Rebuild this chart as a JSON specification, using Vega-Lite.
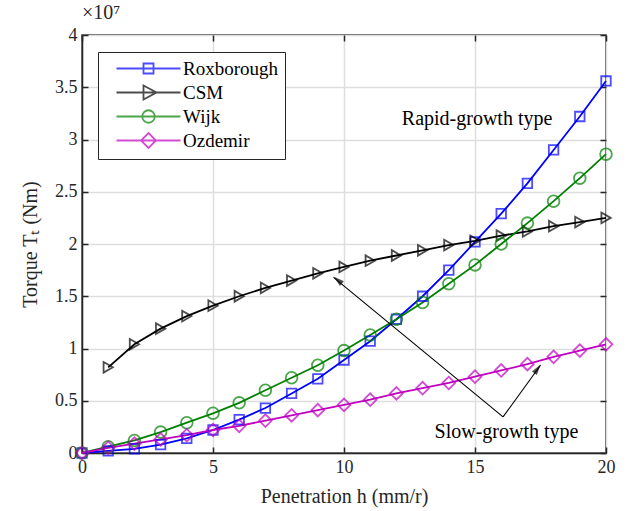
{
  "$schema": "https://vega.github.io/schema/vega-lite/v6.json",
  "width": 524,
  "height": 418,
  "autosize": "none",
  "padding": {"left": 82, "top": 35, "right": 21, "bottom": 58},
  "title": {"text": "×10⁷", "anchor": "start", "frame": "group", "fontSize": 20, "fontWeight": "normal", "color": "#262626", "offset": 3},
  "datasets": {
    "torque": [
      {"series": "Roxborough", "h": 0, "T": 0.0},
      {"series": "Roxborough", "h": 1, "T": 0.02},
      {"series": "Roxborough", "h": 2, "T": 0.04},
      {"series": "Roxborough", "h": 3, "T": 0.08},
      {"series": "Roxborough", "h": 4, "T": 0.14},
      {"series": "Roxborough", "h": 5, "T": 0.22},
      {"series": "Roxborough", "h": 6, "T": 0.32},
      {"series": "Roxborough", "h": 7, "T": 0.43},
      {"series": "Roxborough", "h": 8, "T": 0.57},
      {"series": "Roxborough", "h": 9, "T": 0.71},
      {"series": "Roxborough", "h": 10, "T": 0.89},
      {"series": "Roxborough", "h": 11, "T": 1.07},
      {"series": "Roxborough", "h": 12, "T": 1.28},
      {"series": "Roxborough", "h": 13, "T": 1.5},
      {"series": "Roxborough", "h": 14, "T": 1.75},
      {"series": "Roxborough", "h": 15, "T": 2.02},
      {"series": "Roxborough", "h": 16, "T": 2.29},
      {"series": "Roxborough", "h": 17, "T": 2.58},
      {"series": "Roxborough", "h": 18, "T": 2.9},
      {"series": "Roxborough", "h": 19, "T": 3.22},
      {"series": "Roxborough", "h": 20, "T": 3.56},
      {"series": "CSM", "h": 1, "T": 0.82},
      {"series": "CSM", "h": 2, "T": 1.04},
      {"series": "CSM", "h": 3, "T": 1.19},
      {"series": "CSM", "h": 4, "T": 1.31},
      {"series": "CSM", "h": 5, "T": 1.41},
      {"series": "CSM", "h": 6, "T": 1.5},
      {"series": "CSM", "h": 7, "T": 1.58},
      {"series": "CSM", "h": 8, "T": 1.65},
      {"series": "CSM", "h": 9, "T": 1.72},
      {"series": "CSM", "h": 10, "T": 1.78},
      {"series": "CSM", "h": 11, "T": 1.84},
      {"series": "CSM", "h": 12, "T": 1.89},
      {"series": "CSM", "h": 13, "T": 1.94},
      {"series": "CSM", "h": 14, "T": 1.99},
      {"series": "CSM", "h": 15, "T": 2.03},
      {"series": "CSM", "h": 16, "T": 2.08},
      {"series": "CSM", "h": 17, "T": 2.12},
      {"series": "CSM", "h": 18, "T": 2.17},
      {"series": "CSM", "h": 19, "T": 2.21},
      {"series": "CSM", "h": 20, "T": 2.25},
      {"series": "Wijk", "h": 0, "T": 0.0},
      {"series": "Wijk", "h": 1, "T": 0.06},
      {"series": "Wijk", "h": 2, "T": 0.12},
      {"series": "Wijk", "h": 3, "T": 0.2},
      {"series": "Wijk", "h": 4, "T": 0.29},
      {"series": "Wijk", "h": 5, "T": 0.38},
      {"series": "Wijk", "h": 6, "T": 0.48},
      {"series": "Wijk", "h": 7, "T": 0.6},
      {"series": "Wijk", "h": 8, "T": 0.72},
      {"series": "Wijk", "h": 9, "T": 0.84},
      {"series": "Wijk", "h": 10, "T": 0.98},
      {"series": "Wijk", "h": 11, "T": 1.13},
      {"series": "Wijk", "h": 12, "T": 1.28},
      {"series": "Wijk", "h": 13, "T": 1.44},
      {"series": "Wijk", "h": 14, "T": 1.62},
      {"series": "Wijk", "h": 15, "T": 1.8},
      {"series": "Wijk", "h": 16, "T": 2.0},
      {"series": "Wijk", "h": 17, "T": 2.2},
      {"series": "Wijk", "h": 18, "T": 2.41},
      {"series": "Wijk", "h": 19, "T": 2.63},
      {"series": "Wijk", "h": 20, "T": 2.86},
      {"series": "Ozdemir", "h": 0, "T": 0.0},
      {"series": "Ozdemir", "h": 1, "T": 0.05},
      {"series": "Ozdemir", "h": 2, "T": 0.09},
      {"series": "Ozdemir", "h": 3, "T": 0.13},
      {"series": "Ozdemir", "h": 4, "T": 0.17},
      {"series": "Ozdemir", "h": 5, "T": 0.22},
      {"series": "Ozdemir", "h": 6, "T": 0.26},
      {"series": "Ozdemir", "h": 7, "T": 0.31},
      {"series": "Ozdemir", "h": 8, "T": 0.36},
      {"series": "Ozdemir", "h": 9, "T": 0.41},
      {"series": "Ozdemir", "h": 10, "T": 0.46},
      {"series": "Ozdemir", "h": 11, "T": 0.51},
      {"series": "Ozdemir", "h": 12, "T": 0.57},
      {"series": "Ozdemir", "h": 13, "T": 0.62},
      {"series": "Ozdemir", "h": 14, "T": 0.67},
      {"series": "Ozdemir", "h": 15, "T": 0.73},
      {"series": "Ozdemir", "h": 16, "T": 0.79},
      {"series": "Ozdemir", "h": 17, "T": 0.85},
      {"series": "Ozdemir", "h": 18, "T": 0.92},
      {"series": "Ozdemir", "h": 19, "T": 0.98},
      {"series": "Ozdemir", "h": 20, "T": 1.04}
    ],
    "labels": [
      {"label": "Rapid-growth type", "h": 15.08, "T": 3.2},
      {"label": "Slow-growth type", "h": 16.2, "T": 0.2}
    ],
    "arrows": [
      {"h": 16.07, "T": 0.345, "h2": 9.6, "T2": 1.68},
      {"h": 16.07, "T": 0.345, "h2": 17.5, "T2": 0.84}
    ],
    "heads": [
      {"id": "a", "h": 9.76, "T": 1.655},
      {"id": "b", "h": 17.39, "T": 0.806}
    ]
  },
  "resolve": {"scale": {"color": "independent", "shape": "independent", "size": "independent"}, "axis": {"x": "independent", "y": "independent"}},
  "layer": [
    {
      "data": {"name": "torque"},
      "mark": {"type": "line", "strokeWidth": 1.8},
      "encoding": {
        "x": {"field": "h", "type": "quantitative", "scale": {"domain": [0, 20], "nice": false, "zero": false},
              "axis": {"values": [0, 5, 10, 15, 20], "title": "Penetration h (mm/r)", "titleFontSize": 20, "titlePadding": 10}},
        "y": {"field": "T", "type": "quantitative", "scale": {"domain": [0, 4], "nice": false},
              "axis": {"values": [0, 0.5, 1, 1.5, 2, 2.5, 3, 3.5, 4], "format": "~g", "title": "Torque Tₜ (Nm)", "titleFontSize": 20, "titlePadding": 14}},
        "color": {"field": "series", "type": "nominal",
                  "scale": {"domain": ["Roxborough", "CSM", "Wijk", "Ozdemir"], "range": ["#0000ff", "#000000", "#008000", "#bf00bf"]},
                  "legend": null},
        "detail": {"field": "series", "type": "nominal"}
      }
    },
    {
      "data": {"name": "torque"},
      "mark": {"type": "point", "filled": false, "strokeWidth": 1.8},
      "encoding": {
        "x": {"field": "h", "type": "quantitative", "axis": {"orient": "top", "values": [0, 5, 10, 15, 20], "labels": false, "title": null, "grid": false, "domain": false}},
        "y": {"field": "T", "type": "quantitative", "axis": {"orient": "right", "values": [0, 0.5, 1, 1.5, 2, 2.5, 3, 3.5, 4], "labels": false, "title": null, "grid": false, "domain": false}},
        "color": {"field": "series", "type": "nominal",
                  "scale": {"domain": ["Roxborough", "CSM", "Wijk", "Ozdemir"], "range": ["#0000ff", "#000000", "#008000", "#bf00bf"]},
                  "legend": null},
        "shape": {"field": "series", "type": "nominal",
                  "scale": {"domain": ["Roxborough", "CSM", "Wijk", "Ozdemir"], "range": ["square", "triangle-right", "circle", "diamond"]},
                  "legend": null},
        "size": {"field": "series", "type": "nominal",
                 "scale": {"domain": ["Roxborough", "CSM", "Wijk", "Ozdemir"], "range": [90, 160, 150, 200]},
                 "legend": null}
      }
    },
    {
      "data": {"name": "torque"},
      "transform": [{"filter": "datum.h < -100"}],
      "mark": {"type": "point", "filled": false, "strokeWidth": 1.8},
      "encoding": {
        "x": {"field": "h", "type": "quantitative", "axis": null},
        "y": {"field": "T", "type": "quantitative", "axis": null},
        "color": {"field": "series", "type": "nominal",
                  "scale": {"domain": ["Roxborough", "CSM", "Wijk", "Ozdemir"], "range": ["#0000ff", "#000000", "#008000", "#bf00bf"]},
                  "legend": {"orient": "none", "legendX": 16, "legendY": 17, "title": null,
                             "fillColor": "white", "strokeColor": "#262626",
                             "padding": 7, "rowPadding": 2, "labelFontSize": 19,
                             "labelColor": "#000000", "labelOffset": 59, "symbolSize": 100, "symbolStrokeWidth": 1.8,
                             "symbolFillColor": "transparent", "labelLimit": 200}},
        "shape": {"field": "series", "type": "nominal",
                  "scale": {"domain": ["Roxborough", "CSM", "Wijk", "Ozdemir"],
                            "range": ["M0.4,0H13.2M5.8,-1H7.8V1H5.8Z", "M0.4,0H13.2M5.8,-1.4L8.4,0L5.8,1.4Z", "M0.4,0H13.2M8.05,0A1.25,1.25 0 1,1 5.55,0A1.25,1.25 0 1,1 8.05,0", "M0.4,0H13.2M6.8,-1.5L8.3,0L6.8,1.5L5.3,0Z"]}}
      }
    },
    {
      "data": {"name": "arrows"},
      "mark": {"type": "rule", "color": "#000000", "strokeWidth": 1.1},
      "encoding": {
        "x": {"field": "h", "type": "quantitative", "axis": null},
        "y": {"field": "T", "type": "quantitative", "axis": null},
        "x2": {"field": "h2"},
        "y2": {"field": "T2"}
      }
    },
    {
      "data": {"name": "heads"},
      "transform": [{"filter": "datum.id == 'a'"}],
      "mark": {"type": "point", "filled": true, "color": "#000000", "shape": "M0,-1L0.55,1L-0.55,1Z", "size": 120, "angle": 310},
      "encoding": {
        "x": {"field": "h", "type": "quantitative", "axis": null},
        "y": {"field": "T", "type": "quantitative", "axis": null}
      }
    },
    {
      "data": {"name": "heads"},
      "transform": [{"filter": "datum.id == 'b'"}],
      "mark": {"type": "point", "filled": true, "color": "#000000", "shape": "M0,-1L0.55,1L-0.55,1Z", "size": 120, "angle": 36},
      "encoding": {
        "x": {"field": "h", "type": "quantitative", "axis": null},
        "y": {"field": "T", "type": "quantitative", "axis": null}
      }
    },
    {
      "data": {"name": "labels"},
      "mark": {"type": "text", "fontSize": 20, "color": "#000000", "align": "center", "baseline": "middle"},
      "encoding": {
        "x": {"field": "h", "type": "quantitative", "axis": null},
        "y": {"field": "T", "type": "quantitative", "axis": null},
        "text": {"field": "label", "type": "nominal"}
      }
    }
  ],
  "config": {
    "font": "Times New Roman, Liberation Serif, serif",
    "view": {"stroke": "#262626", "strokeWidth": 1.5},
    "legend": {"strokeWidth": 1, "labelFont": "Times New Roman, Liberation Serif, serif"},
    "title": {"font": "Times New Roman, Liberation Serif, serif"},
    "text": {"font": "Times New Roman, Liberation Serif, serif"},
    "axis": {
      "labelFont": "Times New Roman, Liberation Serif, serif",
      "labelFontSize": 18,
      "labelColor": "#262626",
      "labelFlush": false,
      "titleFont": "Times New Roman, Liberation Serif, serif",
      "titleFontWeight": "normal",
      "titleColor": "#262626",
      "domainColor": "#262626",
      "domainWidth": 1.5,
      "tickColor": "#262626",
      "tickWidth": 1.5,
      "tickSize": -6,
      "labelPadding": 11,
      "grid": true,
      "gridColor": "#dedede",
      "gridWidth": 1.5
    }
  }
}
